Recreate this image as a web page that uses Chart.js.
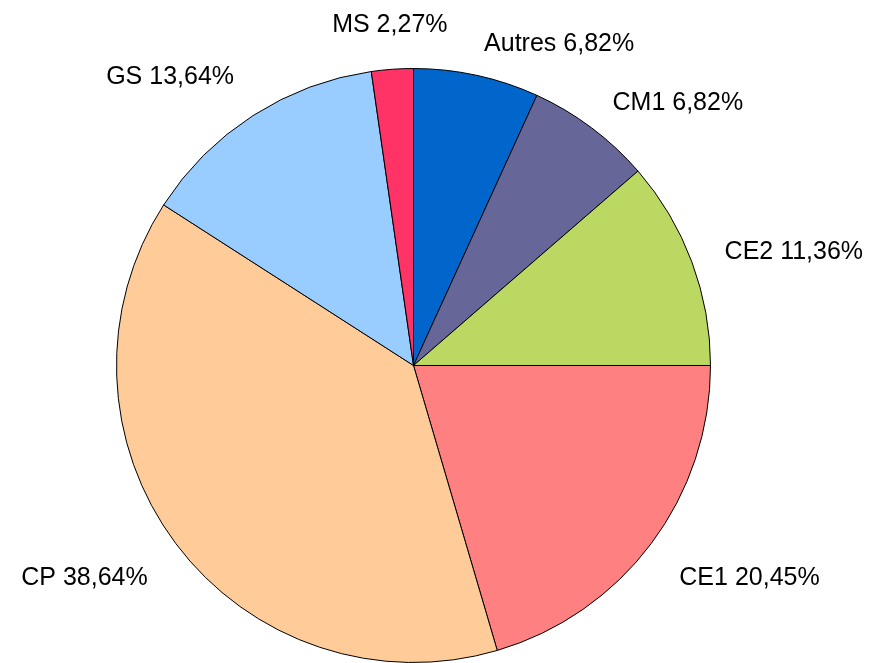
<!DOCTYPE html>
<html>
<head>
<meta charset="utf-8">
<script src="https://cdn.jsdelivr.net/npm/chart.js@4/dist/chart.umd.min.js"></script>
<style>
  body { margin: 0; background: #ffffff; }
  canvas { display: block; }
</style>
</head>
<body>
<canvas id="pieChart" width="870" height="663"></canvas>
<script>
// Répartition par niveau (en %)
const categories = ["Autres", "CM1", "CE2", "CE1", "CP", "GS", "MS"];
const values = [6.82, 6.82, 11.36, 20.45, 38.64, 13.64, 2.27];
const colors = ["#0066CC", "#666699", "#BBD962", "#FF8080", "#FFCC99", "#99CCFF", "#FF3366"];

/*
Etiquettes à l'extérieur du camembert, façon tableur.
 */
const outsideLabels = {
    id: "outsideLabels",
    afterDraw(chart) {
        const ctx = chart.ctx;
        const arcs = chart.getDatasetMeta(0).data;
        ctx.save();
        ctx.font = "25px 'Liberation Sans', Arial, sans-serif";
        ctx.fillStyle = "#000000";
        ctx.textBaseline = "alphabetic";
        arcs.forEach((arc, i) => {
            const mid = (arc.startAngle + arc.endAngle) / 2;
            const sx = Math.cos(mid);   // vers la droite
            const cy = -Math.sin(mid);  // vers le haut
            const px = arc.x + 332 * sx;
            let py = arc.y - 331 * cy;
            if (sx > 0.15) ctx.textAlign = "left";
            else if (sx < -0.15) ctx.textAlign = "right";
            else ctx.textAlign = "center";
            if (cy < -0.3) py += 12.5;
            else if (cy > 0.3 && sx < 0) py -= 12.5;
            const text = categories[i] + " " + values[i].toFixed(2).replace(".", ",") + "%";
            ctx.fillText(text, px, py + 9);
        });
        ctx.restore();
    }
};

const ctx = document.getElementById("pieChart");
const pieChart = new Chart(ctx, {
    type: "pie",
    data: {
        labels: categories,
        datasets: [{
            data: values,
            backgroundColor: colors,
            borderColor: "#000000",
            borderWidth: 1,
        }],
    },
    options: {
        responsive: false,
        animation: false,
        layout: {
            padding: { left: 116, right: 159, top: 68, bottom: 0 }
        },
        plugins: {
            legend: { display: false },
            tooltip: { enabled: false },
        },
    },
    plugins: [outsideLabels],
});
</script>
</body>
</html>
